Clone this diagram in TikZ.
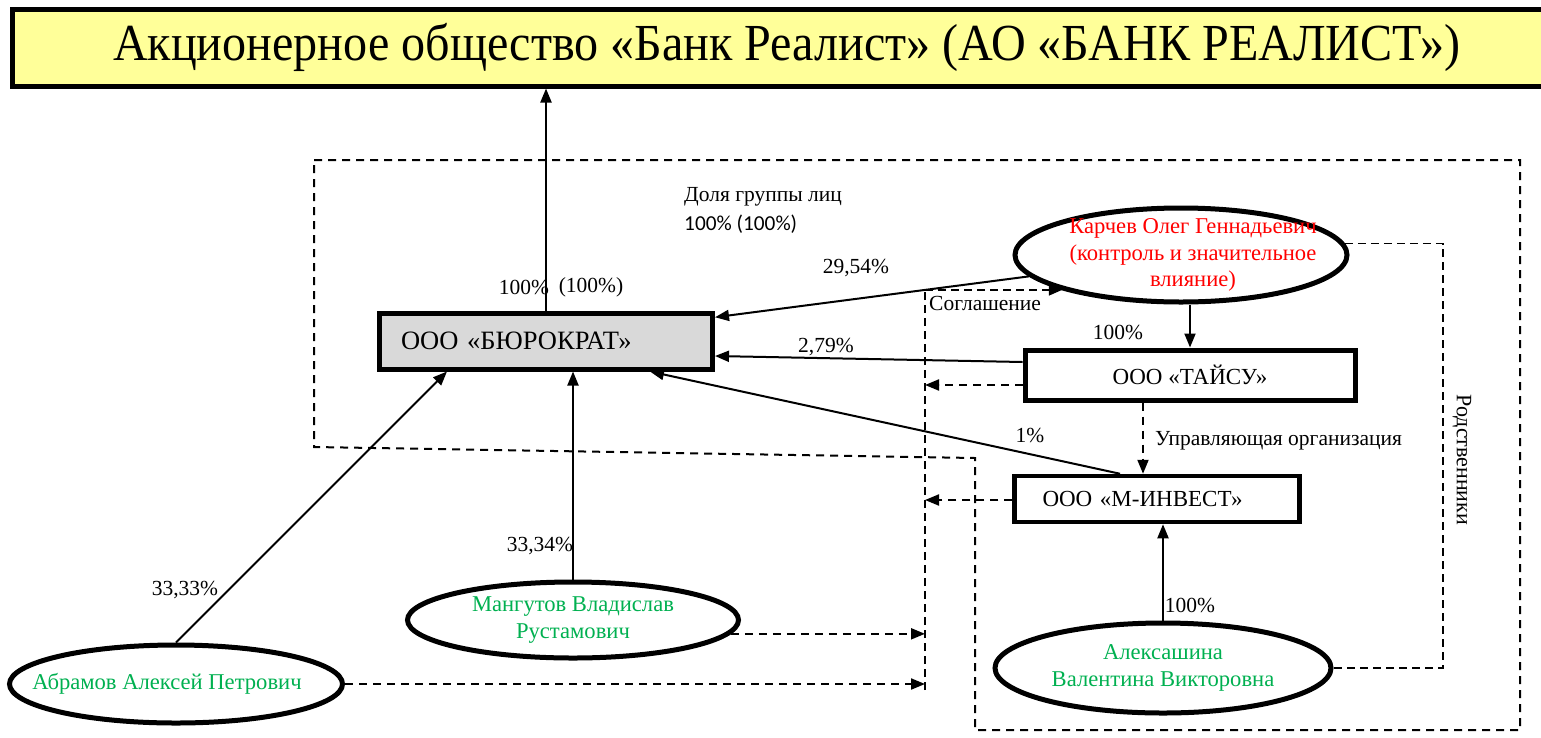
\documentclass[tikz,border=0pt]{standalone}
\usepackage{fontspec}
\setmainfont{Liberation Serif}
\newfontfamily\titlefont[FakeStretch=0.925]{Liberation Serif}
\newfontfamily\calib{Carlito}
\usetikzlibrary{shapes.geometric,arrows.meta,calc}
\definecolor{titlefill}{HTML}{FFFF99}
\definecolor{boxgray}{HTML}{D9D9D9}
\definecolor{pgreen}{HTML}{00B050}
\definecolor{pred}{HTML}{FF0000}
\begin{document}
\begin{tikzpicture}[x=1pt,y=-1pt,
  every node/.style={font=\fontsize{21.5}{26}\selectfont},
  box/.style={draw, line width=5pt, rectangle, inner sep=0pt},
  person/.style={draw, ellipse, line width=5pt, inner xsep=-40pt, inner ysep=-14pt, align=center, text=pgreen, font=\fontsize{22.6}{26.5}\selectfont},
  arr/.style={line width=2pt, -{Triangle[length=14pt,width=11pt]}},
  darr/.style={arr, dash pattern=on 8pt off 6pt},
  grp/.style={line width=2pt, dash pattern=on 8pt off 6pt},
  thindash/.style={line width=1.5pt, dash pattern=on 8pt off 5pt},
  lbl/.style={inner sep=0pt, font=\fontsize{21.5}{26}\selectfont}]
\useasboundingbox (0,0) rectangle (1541,737);
\clip (0,0) rectangle (1541,737);

% title
\node[box, fill=titlefill, minimum width=1550, minimum height=77, font=\titlefont\fontsize{52}{58}\selectfont] (title) at (787,47.5) {Акционерное общество «Банк Реалист» (АО «БАНК РЕАЛИСТ»)};

% group frame
\draw[grp] (314,160) -- (1520,160) -- (1520,730) -- (975,730) -- (975,458) -- (314,447) -- cycle;

% boxes
\node[box, fill=boxgray, minimum width=333, minimum height=56, text width=290, inner xsep=21.5, align=left, font=\fontsize{26.5}{30}\selectfont] (burokrat) at (546,341) {ООО «БЮРОКРАТ»};
\node[box, fill=white, minimum width=330, minimum height=50, font=\fontsize{23}{28}\selectfont] (taisu) at (1190,375) {ООО «ТАЙСУ»};
\node[box, line width=4.5pt, fill=white, minimum width=285, minimum height=46, text width=229, inner xsep=28, align=left, font=\fontsize{23}{28}\selectfont] (minvest) at (1157,499) {ООО «М-ИНВЕСТ»};

% persons
\node[person, text=pred, minimum width=332, minimum height=94] (karchev) at (1181,255) {\hspace*{24pt}Карчев Олег Геннадьевич\\\hspace*{24pt}(контроль и значительное\\\hspace*{24pt}влияние)};
\node[person, minimum width=336, minimum height=90] (aleks) at (1163,668) {Алексашина\\Валентина Викторовна};
\node[person, minimum width=331, minimum height=76] (mang) at (573,620) {Мангутов Владислав\\Рустамович};
\node[person, minimum width=333, minimum height=78] (abram) at (176,684) {Абрамов Алексей Петрович\hspace*{18pt}};

% agreement line
\coordinate (sgT) at (925,290);
\coordinate (sgB) at (925,690);
\draw[thindash] (sgB) -- (sgT);
\draw[thindash, -{Triangle[length=13pt,width=11pt]}] (sgT) -- (sgT -| karchev.south west);
\node[lbl, anchor=west] (sogl) at (929,303) {Соглашение};

% ownership arrows
\draw[arr] (burokrat.north) -- (burokrat.north |- title.south);
\node[lbl] (l100a) at (524,287) {100\%};
\node[lbl] (l100b) at (591,287) {(100\%)};

\draw[arr] (karchev.188) -- (burokrat.8);
\node[lbl] (l2954) at (856,268) {29,54\%};

\draw[arr] (taisu.north |- karchev.south) -- (taisu.north);
\node[lbl] (l100c) at (1118,332) {100\%};

\draw[arr] ([yshift=13pt]taisu.west) -- ([yshift=-15pt]burokrat.east);
\node[lbl] (l279) at (826,347) {2,79\%};

\draw[darr] ([yshift=-10pt]taisu.west) -- ([yshift=-10pt]taisu.west -| sgT);

\draw[darr] ([xshift=-47pt]taisu.south) -- ([xshift=-47pt]taisu.south |- minvest.north);
\node[lbl, anchor=west] (lupr) at (1155,441) {Управляющая организация};

\draw[arr] ([xshift=-37pt]minvest.north) -- ([xshift=104pt]burokrat.south);
\node[lbl] (l1) at (1030,435) {1\%};

\draw[darr] ([yshift=-1pt]minvest.west) -- ([yshift=-1pt]minvest.west -| sgT);

\draw[arr] (aleks.north) -- (aleks.north |- minvest.south);
\node[lbl] (l100d) at (1190,605) {100\%};

\draw[thindash] (karchev.4) -| (aleks.east -| 1443,0) -- (aleks.east);
\node[lbl, rotate=-90, font=\fontsize{22}{26}\selectfont] (lrod) at (1462,460) {Родственники};

\draw[arr] (mang.north) -- (mang.north |- burokrat.south);
\node[lbl] (l3334) at (540,546) {33,34\%};

\draw[arr] (abram.north) -- ([xshift=-99pt]burokrat.south);
\node[lbl] (l3333) at (185,590) {33,33\%};

\draw[darr] (mang.-5) -- (mang.-5 -| sgT);
\draw[darr] (abram.east) -- (abram.east -| sgT);

% group share label
\node[lbl, anchor=west] (dolya) at (684,197) {Доля группы лиц};
\node[lbl, anchor=west, font=\calib\fontsize{21.3}{25}\selectfont] (dolyav) at (684,224) {100\% (100\%)};
\end{tikzpicture}
\end{document}
